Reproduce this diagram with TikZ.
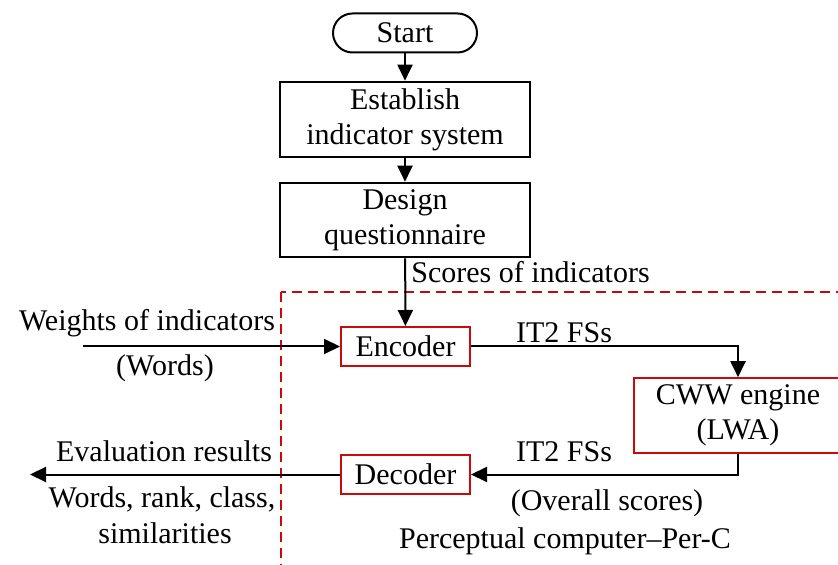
\documentclass[tikz,border=0pt]{standalone}
\usepackage{fontspec}
\setmainfont{Liberation Serif}
\usetikzlibrary{arrows.meta}
\definecolor{perred}{RGB}{200,10,10}

\begin{document}
\begin{tikzpicture}[x=0.5pt,y=-0.5pt,
    every node/.style={font=\fontsize{15pt}{17.5pt}\selectfont},
    term/.style={draw,line width=1pt,rounded corners=9.75pt,minimum width=72pt,minimum height=19.5pt},
    proc/.style={draw,line width=1pt,align=center,minimum width=125pt,minimum height=35.5pt},
    block/.style={draw=perred,line width=1pt,align=center,minimum width=64.5pt,minimum height=19.5pt},
    lbl/.style={inner sep=0pt,anchor=base},
    arr/.style={line width=1pt,-{Triangle[length=8pt,width=7.5pt]}},
    perc/.style={draw=perred,line width=1pt,dash pattern=on 5pt off 3pt}]
    \useasboundingbox (0,0) rectangle (838,565);
    % flow chart
    \node[term] (start) at (405,33) {Start};
    \node[proc] (estab) at (405,119.5) {Establish\\indicator system};
    \node[proc] (design) at (405,220) {Design\\questionnaire};
    % per-c
    \draw[perc] (281,292) rectangle (850,565.5);
    \node[block] (enc) at (405.5,346.5) {Encoder};
    \node[block,minimum width=104pt,minimum height=35.5pt] (cww) at (738,415.5) {CWW engine\\(LWA)};
    \node[block] (dec) at (405.5,474.5) {Decoder};
    \coordinate (win) at (83,346.5);
    \coordinate (wout) at (30,474.5);
    \draw[arr] (start) -- (estab);
    \draw[arr] (estab) -- (design);
    \draw[arr] (design) -- (enc);
    \draw[arr] (win) -- (enc);
    \draw[arr] (enc) -| (cww);
    \draw[arr] (cww) |- (dec);
    \draw[arr] (dec) -- (wout);
    % labels
    \node[lbl,anchor=base west] (scores) at (411,283) {Scores of indicators};
    \node[lbl] (weights) at (147,331) {Weights of indicators};
    \node[lbl] (words) at (165,376) {(Words)};
    \node[lbl] (fs1) at (564,343) {IT2 FSs};
    \node[lbl] (fs2) at (564,461) {IT2 FSs};
    \node[lbl] (overall) at (607,510) {(Overall scores)};
    \node[lbl] (percc) at (565,548) {Perceptual computer--Per-C};
    \node[lbl] (evalres) at (164,461) {Evaluation results};
    \node[lbl] (rank) at (162,507) {Words, rank, class,};
    \node[lbl] (simil) at (165,543) {similarities};
\end{tikzpicture}
\end{document}
